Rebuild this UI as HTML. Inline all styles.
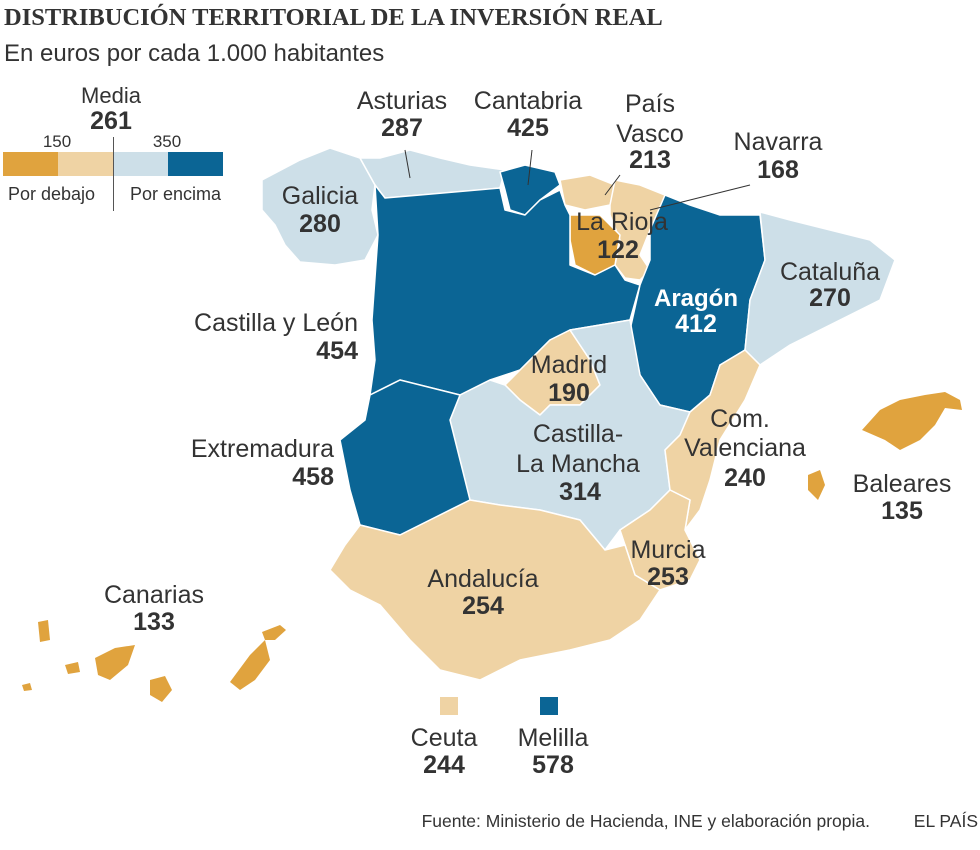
<!DOCTYPE html>
<html><head><meta charset="utf-8"><style>
body{margin:0;background:#fff;width:980px;height:850px;overflow:hidden}
svg{display:block}
text{font-family:"Liberation Sans",sans-serif;fill:#333}
.n{font-size:25px}
.v{font-size:25px;font-weight:bold}
</style></head><body>
<svg width="980" height="850" viewBox="0 0 980 850">
<text x="4" y="25" style="font-family:'Liberation Serif',serif;font-weight:bold;font-size:24.5px" fill="#222">DISTRIBUCIÓN TERRITORIAL DE LA INVERSIÓN REAL</text>
<text x="4" y="61" style="font-size:24px" fill="#444">En euros por cada 1.000 habitantes</text>
<rect x="3" y="152" width="55" height="24" fill="#e0a33e"/>
<rect x="58" y="152" width="55" height="24" fill="#efd3a4"/>
<rect x="113" y="152" width="55" height="24" fill="#cddfe8"/>
<rect x="168" y="152" width="55" height="24" fill="#0b6595"/>
<line x1="113.5" y1="137" x2="113.5" y2="211" stroke="#555" stroke-width="1"/>
<text x="111" y="103" text-anchor="middle" style="font-size:22px">Media</text>
<text x="111" y="129" text-anchor="middle" style="font-size:25px;font-weight:bold">261</text>
<text x="57" y="147" text-anchor="middle" style="font-size:17px">150</text>
<text x="167" y="147" text-anchor="middle" style="font-size:17px">350</text>
<text x="8" y="200" style="font-size:18px">Por debajo</text>
<text x="130" y="200" style="font-size:18px">Por encima</text>
<g stroke="#fff" stroke-width="1.5" stroke-linejoin="round">
<polygon fill="#cddfe8" points="262,180 300,160 330,148 360,158 375,185 372,210 378,235 365,260 335,265 300,262 285,245 275,225 262,210"/>
<polygon fill="#cddfe8" points="360,158 380,158 410,150 440,158 470,165 505,170 500,188 460,192 420,195 385,198 375,185"/>
<polygon fill="#0b6595" points="500,172 525,165 555,172 560,185 540,200 525,215 510,210 505,190"/>
<polygon fill="#efd3a4" points="560,180 590,175 615,185 610,205 585,210 565,205"/>
<polygon fill="#efd3a4" points="615,180 640,185 665,195 665,210 650,230 640,255 650,270 640,280 625,278 615,265 620,240 610,215 610,205"/>
<polygon fill="#e0a33e" points="570,215 600,215 620,235 615,265 595,275 575,265 570,240"/>
<polygon fill="#0b6595" points="375,185 385,198 420,195 500,188 505,210 525,215 540,200 560,190 565,205 570,215 570,265 595,275 615,265 625,280 640,285 630,320 600,325 570,330 550,340 520,370 490,380 460,395 440,390 400,380 370,395 375,360 372,320 378,235"/>
<polygon fill="#0b6595" points="665,195 690,205 720,215 760,215 765,260 750,300 745,350 720,365 710,395 690,412 660,405 640,375 630,330 640,285 650,260 650,230"/>
<polygon fill="#cddfe8" points="760,212 790,220 830,230 870,240 895,260 880,300 840,320 790,345 760,365 745,350 750,300 765,260"/>
<polygon fill="#efd3a4" points="520,370 550,340 570,330 590,360 600,385 580,405 550,405 540,415 520,400 505,385"/>
<polygon fill="#cddfe8" points="460,395 490,380 505,385 520,400 540,415 550,405 580,405 600,385 590,360 570,330 600,325 630,320 640,375 660,405 690,412 680,435 665,450 670,490 650,510 620,530 605,550 580,520 540,510 500,505 470,500 460,460 450,420"/>
<polygon fill="#0b6595" points="370,395 400,380 440,390 460,395 450,420 460,460 470,500 430,520 400,535 360,525 350,490 340,440 365,420"/>
<polygon fill="#efd3a4" points="690,412 710,395 720,365 745,350 760,365 745,400 720,440 710,480 700,510 685,530 690,500 670,490 665,450 680,435"/>
<polygon fill="#efd3a4" points="650,510 670,490 690,500 685,530 700,560 690,580 660,590 635,575 625,545 620,530"/>
<polygon fill="#efd3a4" points="330,570 345,545 360,525 400,535 430,520 470,500 500,505 540,510 580,520 605,550 625,545 635,575 660,590 640,620 610,640 570,650 520,660 480,680 440,670 410,640 380,605 350,590"/>
</g>
<g fill="#e0a33e">
<polygon points="862,430 880,410 900,400 925,395 945,392 960,400 962,410 945,408 935,425 920,440 900,450 885,440"/>
<polygon points="808,475 820,470 825,485 818,500 808,490"/>
<polygon points="38,622 48,620 50,640 40,642"/>
<polygon points="65,665 78,662 80,672 68,674"/>
<polygon points="95,658 115,648 135,645 128,665 110,680 98,675"/>
<polygon points="150,680 165,676 172,690 162,702 150,695"/>
<polygon points="230,682 250,655 265,640 270,660 255,680 240,690"/>
<polygon points="262,632 280,625 286,630 275,640 265,640"/>
<polygon points="22,685 30,683 32,690 24,691"/>
</g>
<rect x="440" y="697" width="18" height="18" fill="#efd3a4"/>
<rect x="540" y="697" width="18" height="18" fill="#0b6595"/>
<line x1="405" y1="150" x2="410" y2="178" stroke="#333"/>
<line x1="532" y1="150" x2="528" y2="185" stroke="#333"/>
<line x1="620" y1="175" x2="605" y2="195" stroke="#333"/>
<line x1="750" y1="185" x2="650" y2="210" stroke="#333"/>
<text class="n" x="402" y="109" text-anchor="middle">Asturias</text><text class="v" x="402" y="136" text-anchor="middle">287</text>
<text class="n" x="528" y="109" text-anchor="middle">Cantabria</text><text class="v" x="528" y="136" text-anchor="middle">425</text>
<text class="n" x="650" y="112" text-anchor="middle">País</text><text class="n" x="650" y="142" text-anchor="middle">Vasco</text><text class="v" x="650" y="168" text-anchor="middle">213</text>
<text class="n" x="778" y="150" text-anchor="middle">Navarra</text><text class="v" x="778" y="178" text-anchor="middle">168</text>
<text class="n" x="320" y="204" text-anchor="middle">Galicia</text><text class="v" x="320" y="232" text-anchor="middle">280</text>
<text class="n" x="622" y="230" text-anchor="middle">La Rioja</text><text class="v" x="618" y="258" text-anchor="middle">122</text>
<text x="696" y="306" text-anchor="middle" style="font-size:24px;font-weight:bold;fill:#fff">Aragón</text><text class="v" x="696" y="332" text-anchor="middle" style="fill:#fff">412</text>
<text class="n" x="830" y="280" text-anchor="middle">Cataluña</text><text class="v" x="830" y="306" text-anchor="middle">270</text>
<text class="n" x="358" y="331" text-anchor="end">Castilla y León</text><text class="v" x="358" y="359" text-anchor="end">454</text>
<text class="n" x="569" y="373" text-anchor="middle">Madrid</text><text class="v" x="569" y="401" text-anchor="middle">190</text>
<text class="n" x="740" y="427" text-anchor="middle">Com.</text><text class="n" x="745" y="456" text-anchor="middle">Valenciana</text><text class="v" x="745" y="486" text-anchor="middle">240</text>
<text class="n" x="334" y="457" text-anchor="end">Extremadura</text><text class="v" x="334" y="485" text-anchor="end">458</text>
<text class="n" x="578" y="442" text-anchor="middle">Castilla-</text><text class="n" x="578" y="472" text-anchor="middle">La Mancha</text><text class="v" x="580" y="500" text-anchor="middle">314</text>
<text class="n" x="902" y="492" text-anchor="middle">Baleares</text><text class="v" x="902" y="519" text-anchor="middle">135</text>
<text class="n" x="668" y="558" text-anchor="middle">Murcia</text><text class="v" x="668" y="585" text-anchor="middle">253</text>
<text class="n" x="483" y="587" text-anchor="middle">Andalucía</text><text class="v" x="483" y="614" text-anchor="middle">254</text>
<text class="n" x="154" y="603" text-anchor="middle">Canarias</text><text class="v" x="154" y="630" text-anchor="middle">133</text>
<text class="n" x="444" y="746" text-anchor="middle">Ceuta</text><text class="v" x="444" y="773" text-anchor="middle">244</text>
<text class="n" x="553" y="746" text-anchor="middle">Melilla</text><text class="v" x="553" y="773" text-anchor="middle">578</text>
<text x="870" y="827" text-anchor="end" style="font-size:17.5px" fill="#555">Fuente: Ministerio de Hacienda, INE y elaboración propia.</text>
<text x="978" y="827" text-anchor="end" style="font-size:17.5px" fill="#555">EL PAÍS</text>
</svg>
</body></html>
